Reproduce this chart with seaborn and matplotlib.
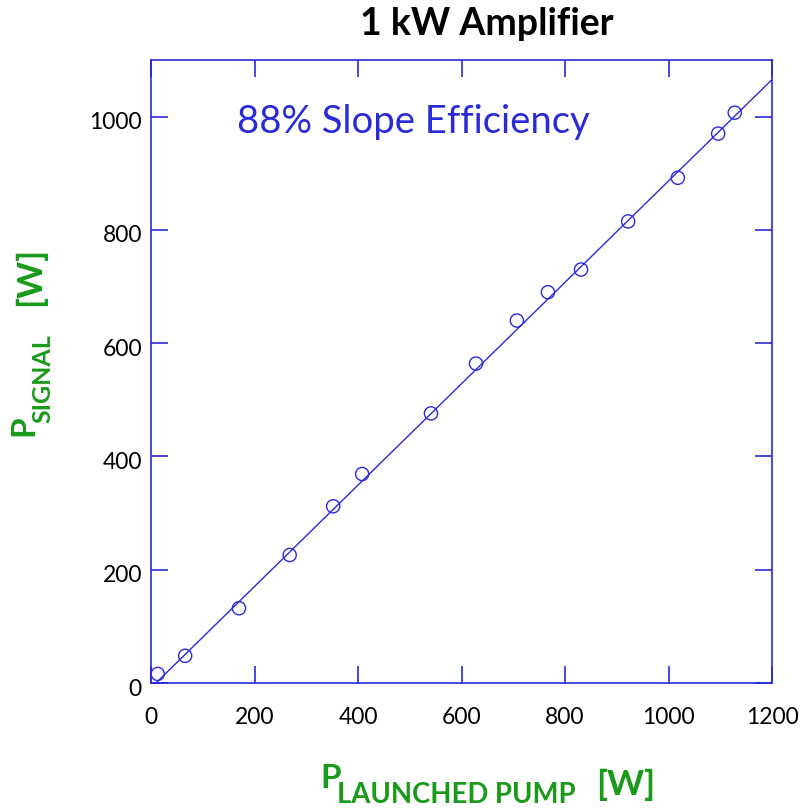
import numpy as np
import matplotlib
matplotlib.use("Agg")
import matplotlib.pyplot as plt
from matplotlib.transforms import ScaledTranslation
import seaborn as sns
import pandas as pd

# Measured amplifier output versus launched pump power
pump_w = [13, 66, 170, 268, 352, 408, 541, 628, 707, 767, 831, 922, 1018, 1096, 1128]
signal_w = [16, 48, 132, 226, 312, 369, 476, 564, 640, 690, 730, 815, 892, 970, 1007]

# Linear fit line (88% slope efficiency label)
fit_x = [10, 1200]
fit_slope = 0.895
fit_offset = -8.6

x_ticks = [0, 200, 400, 600, 800, 1000, 1200]
y_ticks = [0, 200, 400, 600, 800, 1000]

title = "1 kW Amplifier"
note = "88% Slope Efficiency"

BLUE = "#2a2ad8"
GREEN = "#1a9a1a"

sns.set_theme(style="white")
plt.rcParams["font.family"] = ["Lato", "DejaVu Sans"]

fig = plt.figure(figsize=(8.07, 8.09), dpi=100)
ax = fig.add_axes([151 / 807, 1 - 683 / 809, (772 - 151) / 807, (683 - 60) / 809])

df = pd.DataFrame({"pump": pump_w, "signal": signal_w})
fit_df = pd.DataFrame({"pump": fit_x,
                       "signal": [fit_slope * v + fit_offset for v in fit_x]})

sns.lineplot(data=fit_df, x="pump", y="signal", ax=ax, color=BLUE, lw=1.0)
sns.scatterplot(data=df, x="pump", y="signal", ax=ax, s=90, marker="o",
                facecolor="none", edgecolor=BLUE, linewidth=1.0, zorder=3)

ax.set_xlim(0, 1200)
ax.set_ylim(0, 1100)
ax.set_xticks(x_ticks)
ax.set_yticks(y_ticks)
ax.set_xlabel("")
ax.set_ylabel("")
ax.tick_params(direction="in", length=12, width=1.2, color=BLUE,
               labelsize=16.5, labelcolor="black", top=True, right=True,
               bottom=True, left=True, labeltop=False, labelright=False)
ax.tick_params(axis="x", pad=17)
ax.tick_params(axis="y", pad=6.5)
for lab in ax.get_yticklabels():
    lab.set_transform(lab.get_transform()
                      + ScaledTranslation(0, -4 / 100, fig.dpi_scale_trans))
for sp in ax.spines.values():
    sp.set_color(BLUE)
    sp.set_linewidth(1.2)

ax.text(0.139, 0.90, note, transform=ax.transAxes, color=BLUE, fontsize=27.5,
        ha="left", va="center")

fig.text(487 / 807, 1 - 24 / 809, title, ha="center", va="center",
         fontsize=27, fontweight="bold", color="black")

# x-axis label: P with subscript, then unit
fig.text(320 / 807, 1 - 788 / 809, "P", fontsize=24, fontweight="bold",
         color=GREEN, ha="left", va="baseline")
fig.text(337 / 807, 1 - 803 / 809, "LAUNCHED PUMP", fontsize=19.8, fontweight="bold",
         color=GREEN, ha="left", va="baseline")
fig.text(596 / 807, 1 - 795 / 809, "[W]", fontsize=25.5, fontweight="bold",
         color=GREEN, ha="left", va="baseline")

# y-axis label, rotated
fig.text(24 / 807, 1 - 436 / 809, "P", fontsize=24, fontweight="bold",
         color=GREEN, ha="center", va="bottom", rotation=90)
fig.text(43 / 807, 1 - 423 / 809, "SIGNAL", fontsize=18, fontweight="bold",
         color=GREEN, ha="center", va="bottom", rotation=90)
fig.text(30 / 807, 1 - 306 / 809, "[W]", fontsize=25.5, fontweight="bold",
         color=GREEN, ha="center", va="bottom", rotation=90)

fig.savefig("out.png", dpi=100)
